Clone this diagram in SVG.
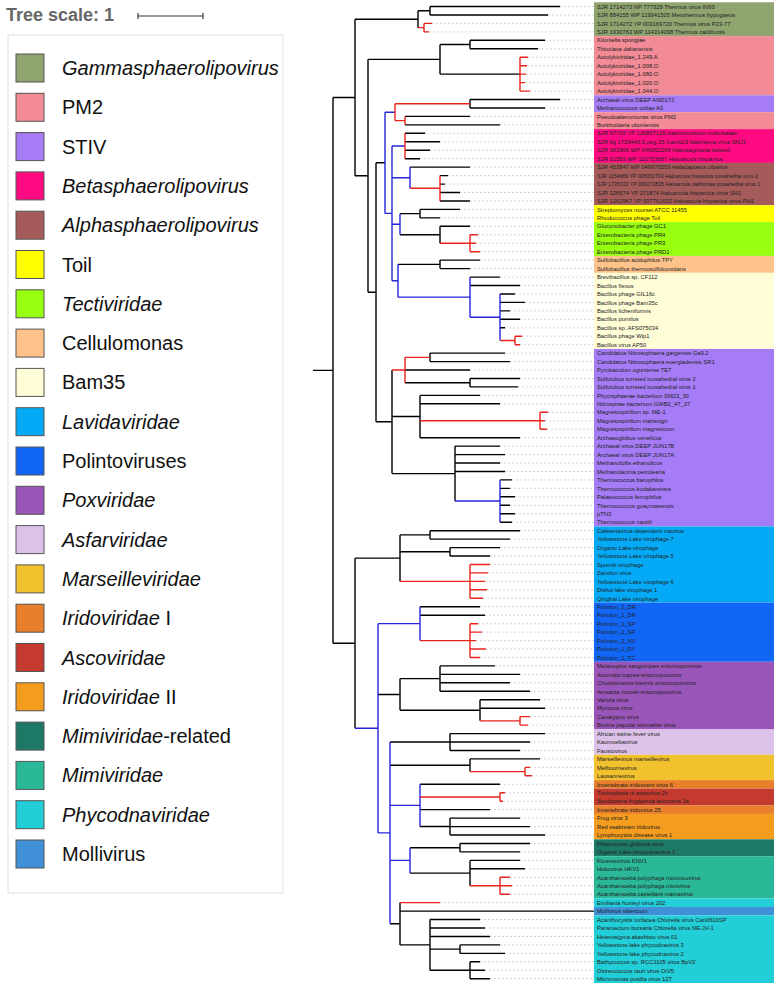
<svg xmlns="http://www.w3.org/2000/svg" width="777" height="988" viewBox="0 0 777 988">
<style>
.k{stroke:#000;stroke-width:1.4;fill:none}
.b{stroke:#2626d9;stroke-width:1.4;fill:none}
.r{stroke:#e8231c;stroke-width:1.4;fill:none}
.dl{stroke:#bbb;stroke-width:0.6;stroke-dasharray:2,2;fill:none}
.lb{font-family:"Liberation Sans",Arial,sans-serif;font-size:5.8px;fill:#222}
.lg{font-family:"Liberation Sans",Arial,sans-serif;font-size:20px;fill:#111}
.sq{stroke:#555;stroke-width:1}
</style>
<rect width="777" height="988" fill="#fff"/>
<g id="bands">
<rect x="594" y="2.27" width="180" height="33.82" fill="#8fa46f"/>
<rect x="594" y="36.09" width="180" height="59.18" fill="#f28b96"/>
<rect x="594" y="95.27" width="180" height="16.92" fill="#a57cf5"/>
<rect x="594" y="112.19" width="180" height="16.91" fill="#f28b96"/>
<rect x="594" y="129.1" width="180" height="33.82" fill="#ff0a80"/>
<rect x="594" y="162.92" width="180" height="42.27" fill="#a65b5b"/>
<rect x="594" y="205.19" width="180" height="16.91" fill="#ffff00"/>
<rect x="594" y="222.1" width="180" height="33.82" fill="#99ff11"/>
<rect x="594" y="255.92" width="180" height="16.91" fill="#ffc28a"/>
<rect x="594" y="272.83" width="180" height="76.1" fill="#fffdd6"/>
<rect x="594" y="348.93" width="180" height="177.55" fill="#a57cf5"/>
<rect x="594" y="526.48" width="180" height="76.1" fill="#05aaf6"/>
<rect x="594" y="602.58" width="180" height="59.18" fill="#1266f5"/>
<rect x="594" y="661.76" width="180" height="67.64" fill="#9a55b8"/>
<rect x="594" y="729.4" width="180" height="25.37" fill="#dcc1e8"/>
<rect x="594" y="754.77" width="180" height="25.36" fill="#f2c12e"/>
<rect x="594" y="780.13" width="180" height="8.46" fill="#e97f2a"/>
<rect x="594" y="788.59" width="180" height="16.91" fill="#c53a2e"/>
<rect x="594" y="805.5" width="180" height="8.45" fill="#e97f2a"/>
<rect x="594" y="813.95" width="180" height="25.37" fill="#f39c1d"/>
<rect x="594" y="839.32" width="180" height="16.91" fill="#1e7866"/>
<rect x="594" y="856.23" width="180" height="42.27" fill="#2bb898"/>
<rect x="594" y="898.5" width="180" height="8.46" fill="#22ced8"/>
<rect x="594" y="906.96" width="180" height="8.45" fill="#4090d8"/>
<rect x="594" y="915.41" width="180" height="67.64" fill="#22ced8"/>
</g>
<g id="connectors">
<path class="dl" d="M560 6.5H594M548 15H594M432 23.4H594M429 31.9H594M545 40.3H594M538 48.8H594M528 57.2H594M527 65.7H594M526 74.1H594M525 82.6H594M530 91.1H594M560 99.5H594M545 108H594M470 116.4H594M500 124.9H594M425 133.3H594M440 141.8H594M430 150.2H594M420 158.7H594M470 167.1H594M448 175.6H594M445 184.1H594M460 192.5H594M470 201H594M460 209.4H594M440 217.9H594M470 226.3H594M478 234.8H594M476 243.2H594M480 251.7H594M480 260.1H594M470 268.6H594M500 277.1H594M520 285.5H594M515 294H594M525 302.4H594M510 310.9H594M520 319.3H594M505 327.8H594M522 336.2H594M520 344.7H594M505 353.1H594M510 361.6H594M470 370H594M520 378.5H594M518 386.9H594M480 395.4H594M500 403.8H594M548 412.3H594M545 420.8H594M547 429.2H594M520 437.7H594M500 446.1H594M505 454.6H594M500 463H594M505 471.5H594M512 479.9H594M510 488.4H594M515 496.8H594M510 505.3H594M515 513.7H594M512 522.2H594M520 530.7H594M510 539.1H594M500 547.6H594M490 556H594M490 564.5H594M488 572.9H594M485 581.4H594M487 589.8H594M483 598.3H594M480 606.7H594M485 615.2H594M478 623.7H594M482 632.1H594M476 640.6H594M486 649H594M480 657.5H594M495 665.9H594M520 674.4H594M510 682.8H594M530 691.3H594M540 699.7H594M545 708.2H594M530 716.6H594M528 725.1H594M545 733.6H594M530 742H594M520 750.5H594M540 758.9H594M530 767.4H594M532 775.8H594M500 784.3H594M505 792.7H594M503 801.2H594M490 809.6H594M520 818.1H594M530 826.6H594M545 835H594M530 843.5H594M520 851.9H594M520 860.4H594M525 868.8H594M510 877.3H594M512 885.7H594M510 894.2H594M440 902.6H594M480 919.5H594M485 928H594M490 936.5H594M500 944.9H594M505 953.4H594M480 961.8H594M485 970.3H594M490 978.7H594"/>
<path class="k" d="M313 370.35H333M333 97.5V643.2M333 97.5H355M333 643.2H355
M355 19.2V175.8M355 19.2H418M355 175.8H368M368 59.35V292.3M368 59.35H440M368 292.3H376M376 162.8V421.8M376 162.8H385M376 421.8H392
M418 10.75V27.65M418 10.75H430M430 6.5V15M430 6.5H560M430 15H548
M440 44.55V74.15M440 44.55H470M470 40.3V48.8M470 40.3H545M470 48.8H538M440 74.15H520
M470 99.5V108M470 99.5H560M470 108H545M405 116.4H470M405 124.9H500
M405 133.3H425M405 141.8H440M405 150.2H430M405 158.7H420
M410 167.1H470M440 175.6H448M440 184.1H445M440 192.5H460M440 201H470
M400 213.65H420M420 209.4V217.9M420 209.4H460M420 217.9H440M400 234.8H440M440 226.3V243.25M440 226.3H470
M398 264.35H440M440 260.1V268.6M440 260.1H480M440 268.6H470M470 277.1H500M470 285.5H520
M500 294H515M500 302.4H525M500 310.9H510M500 319.3H520M500 327.8H505
M392 370V473.6M430 353.1V361.6M430 353.1H505M430 361.6H510M405 370H470M405 382.7H470M470 378.5V386.9M470 378.5H520M470 386.9H518
M392 416.55H420M420 395.4V437.7M420 395.4H480M420 403.8H500M420 437.7H520
M392 473.6H455M455 446.1V501.05M455 446.1H500M455 454.6H505M455 463H500M455 471.5H505
M500 479.9H512M500 488.4H510M500 496.8H515M500 505.3H510M500 513.7H515M500 522.2H512
M355 558.15V728.3M355 558.15H400M400 534.9V581.4M400 534.9H430M430 530.7V539.1M430 530.7H520M430 539.1H510M400 551.8H450M450 547.6V556M450 547.6H500M450 556H490
M420 606.7H480M420 615.2H485
M378 694.45H400M400 678.6V710.3M400 678.6H440M440 665.9V691.3M440 665.9H495M440 674.4H520M440 682.8H510M440 691.3H530M400 710.3H480M480 699.7V720.85M480 699.7H540M480 708.2H545
M390 742.05H450M450 733.6V750.5M450 733.6H545M450 742H530M450 750.5H520
M390 765.25H470M470 758.9V771.6M470 758.9H540
M420 784.3H500M420 809.6H490M420 826.55H450M450 818.1V835M450 818.1H520M450 826.6H530M450 835H545
M410 847.7H460M460 843.5V851.9M460 843.5H530M460 851.9H520M410 873.1H470M470 860.4V885.75M470 860.4H520M470 868.8H525
M390 923.75H400M400 902.6V944.9M400 911.1H594M400 944.9H430M430 919.5V970.25M430 919.5H480M430 928H485M430 936.5H490M430 949.15H460M460 944.9V953.4M460 944.9H500M460 953.4H505M430 970.25H470M470 961.8V978.7M470 961.8H480M470 970.3H485M470 978.7H490"/>
<path class="b" d="M385 112.2V213.4M385 112.2H395M385 213.4H392M392 146V280.75M392 146H405M392 177.7H410M410 167.1V188.3M392 224.2H400M400 213.65V234.8M392 280.75H398M398 264.35V297.15M398 297.15H470M470 277.1V317.2M470 317.2H500M500 294V340.45
M455 501.05H500M500 479.9V522.2
M355 728.3H378M378 623.65V832.9M378 623.65H420M420 606.7V640.6M378 832.9H390M390 742.05V923.75M390 805.4H420M420 784.3V826.55M390 860.4H410M410 847.7V873.1"/>
<path class="r" d="M418 27.65H424M424 23.4V31.9M424 23.4H432M424 31.9H429M520 57.2V91.1M520 57.2H528M520 65.7H527M520 74.1H526M520 82.6H525M520 91.1H530
M395 103.75V120.65M395 103.75H470M395 120.65H405M405 116.4V124.9M405 133.3V158.7M410 188.3H440M440 175.6V201M440 243.25H470M470 234.8V251.7M470 234.8H478M470 243.2H476M470 251.7H480
M500 340.45H515M515 336.2V344.7M515 336.2H522M515 344.7H520
M392 370H405M405 357.35V382.7M405 357.35H430M420 420.75H540M540 412.3V429.2M540 412.3H548M540 420.8H545M540 429.2H547
M400 581.4H470M470 564.5V598.3M470 564.5H490M470 572.9H488M470 581.4H485M470 589.8H487M470 598.3H483
M420 640.6H470M470 623.7V657.5M470 623.7H478M470 632.1H482M470 640.6H476M470 649H486M470 657.5H480
M480 720.85H520M520 716.6V725.1M520 716.6H530M520 725.1H528
M470 771.6H525M525 767.4V775.8M525 767.4H530M525 775.8H532
M420 796.95H500M500 792.7V801.2M500 792.7H505M500 801.2H503
M470 885.75H500M500 877.3V894.2M500 877.3H510M500 885.7H512M500 894.2H510
M400 902.6H440"/>
</g>
<g id="leaves" class="lb">
<g id="leaf1"><text x="597" y="8.6">SJR 1714273 NP 777329 Thermus virus IN93</text></g>
<g id="leaf2"><text x="597" y="17.1">SJR 884155 WP 119341505 Meiothermus hypogaeus</text></g>
<g id="leaf3"><text x="597" y="25.5">SJR 1714272 YP 003169720 Thermus virus P23-77</text></g>
<g id="leaf4"><text x="597" y="34">SJR 1930763 WP 114314098 Thermus caldifontis</text></g>
<g id="leaf5"><text x="597" y="42.4">Kiloniella spongiae</text></g>
<g id="leaf6"><text x="597" y="50.9">Thioclava dalianensis</text></g>
<g id="leaf7"><text x="597" y="59.3">Autolykiviridae_1.249.A</text></g>
<g id="leaf8"><text x="597" y="67.8">Autolykiviridae_1.008.O</text></g>
<g id="leaf9"><text x="597" y="76.2">Autolykiviridae_1.080.O</text></g>
<g id="leaf10"><text x="597" y="84.7">Autolykiviridae_1.020.O</text></g>
<g id="leaf11"><text x="597" y="93.2">Autolykiviridae_1.044.O</text></g>
<g id="leaf12"><text x="597" y="101.6">Archaeal virus DEEP AND17J</text></g>
<g id="leaf13"><text x="597" y="110.1">Methanococcus voltae A3</text></g>
<g id="leaf14"><text x="597" y="118.5">Pseudoalteromonas virus PM2</text></g>
<g id="leaf15"><text x="597" y="127">Burkholderia uboniensis</text></g>
<g id="leaf16"><text x="597" y="135.4">SJR 97703 YP 126867126 Halomicrobium mukohataei</text></g>
<g id="leaf17"><text x="597" y="143.9">SJR 6g 1729446.5.peg.25 Gamit23 Natrinema virus SNJ1</text></g>
<g id="leaf18"><text x="597" y="152.3">SJR 363906 WP 049952269 Halostagnicola larsenii</text></g>
<g id="leaf19"><text x="597" y="160.8">SJR 51593 WP 120753687 Haloarcula hispanica</text></g>
<g id="leaf20"><text x="597" y="169.2">SJR 453847 WP 049970559 Haladaptatus cibarius</text></g>
<g id="leaf21"><text x="597" y="177.7" font-size="5.2">SJR 1154689 YP 005352793 Haloarcula hispanica icosahedral virus 2</text></g>
<g id="leaf22"><text x="597" y="186.2" font-size="5.2">SJR 1735722 YP 009272835 Haloarcula californiae icosahedral virus 1</text></g>
<g id="leaf23"><text x="597" y="194.6">SJR 326574 YP 271874 Haloarcula hispanica virus SH1</text></g>
<g id="leaf24"><text x="597" y="203.1">SJR 1262967 YP 007761602 Haloarcula hispanica virus PH1</text></g>
<g id="leaf25"><text x="597" y="211.5">Streptomyces noursei ATCC 11455</text></g>
<g id="leaf26"><text x="597" y="220">Rhodococcus phage Toil</text></g>
<g id="leaf27"><text x="597" y="228.4">Gluconobacter phage GC1</text></g>
<g id="leaf28"><text x="597" y="236.9">Enterobacteria phage PR4</text></g>
<g id="leaf29"><text x="597" y="245.3">Enterobacteria phage PR3</text></g>
<g id="leaf30"><text x="597" y="253.8">Enterobacteria phage PRD1</text></g>
<g id="leaf31"><text x="597" y="262.3">Sulfobacillus acidophilus TPY</text></g>
<g id="leaf32"><text x="597" y="270.7">Sulfobacillus thermosulfidooxidans</text></g>
<g id="leaf33"><text x="597" y="279.2">Brevibacillus sp. CF112</text></g>
<g id="leaf34"><text x="597" y="287.6">Bacillus flexus</text></g>
<g id="leaf35"><text x="597" y="296.1">Bacillus phage GIL16c</text></g>
<g id="leaf36"><text x="597" y="304.5">Bacillus phage Bam35c</text></g>
<g id="leaf37"><text x="597" y="313">Bacillus licheniformis</text></g>
<g id="leaf38"><text x="597" y="321.4">Bacillus pumilus</text></g>
<g id="leaf39"><text x="597" y="329.9">Bacillus sp. AFS075034</text></g>
<g id="leaf40"><text x="597" y="338.4">Bacillus phage Wip1</text></g>
<g id="leaf41"><text x="597" y="346.8">Bacillus virus AP50</text></g>
<g id="leaf42"><text x="597" y="355.3">Candidatus Nitrosophaera gargensis Ga9.2</text></g>
<g id="leaf43"><text x="597" y="363.7">Candidatus Nitrosophaera evergladensis SR1</text></g>
<g id="leaf44"><text x="597" y="372.2">Pyrobaculum oguniense TE7</text></g>
<g id="leaf45"><text x="597" y="380.6">Sulfolobus turreted icosahedral virus 2</text></g>
<g id="leaf46"><text x="597" y="389.1">Sulfolobus turreted icosahedral virus 1</text></g>
<g id="leaf47"><text x="597" y="397.5">Phycisphaerae bacterium SM23_30</text></g>
<g id="leaf48"><text x="597" y="406">Nitrospirae bacterium GWB2_47_37</text></g>
<g id="leaf49"><text x="597" y="414.4">Magnetospirillum sp. ME-1</text></g>
<g id="leaf50"><text x="597" y="422.9">Magnetospirillum marisnigri</text></g>
<g id="leaf51"><text x="597" y="431.4">Magnetospirillum magneticum</text></g>
<g id="leaf52"><text x="597" y="439.8">Archaeoglobus veneficus</text></g>
<g id="leaf53"><text x="597" y="448.3">Archaeal virus DEEP JUN17B</text></g>
<g id="leaf54"><text x="597" y="456.7">Archaeal virus DEEP JUN17A</text></g>
<g id="leaf55"><text x="597" y="465.2">Methanofollis ethanolicus</text></g>
<g id="leaf56"><text x="597" y="473.6">Methanolacinia petrolearia</text></g>
<g id="leaf57"><text x="597" y="482.1">Thermococcus barophilus</text></g>
<g id="leaf58"><text x="597" y="490.5">Thermococcus kodakarensis</text></g>
<g id="leaf59"><text x="597" y="499">Palaeococcus ferrophilus</text></g>
<g id="leaf60"><text x="597" y="507.5">Thermococcus guaymasensis</text></g>
<g id="leaf61"><text x="597" y="515.9">pTN3</text></g>
<g id="leaf62"><text x="597" y="524.4">Thermococcus nautili</text></g>
<g id="leaf63"><text x="597" y="532.8">Cafeteriavirus-dependent mavirus</text></g>
<g id="leaf64"><text x="597" y="541.3">Yellowstone Lake virophage 7</text></g>
<g id="leaf65"><text x="597" y="549.7">Organic Lake virophage</text></g>
<g id="leaf66"><text x="597" y="558.2">Yellowstone Lake virophage 5</text></g>
<g id="leaf67"><text x="597" y="566.6">Sputnik virophage</text></g>
<g id="leaf68"><text x="597" y="575.1">Zamilon virus</text></g>
<g id="leaf69"><text x="597" y="583.5">Yellowstone Lake virophage 6</text></g>
<g id="leaf70"><text x="597" y="592">Dishui lake virophage 1</text></g>
<g id="leaf71"><text x="597" y="600.5">Qinghai Lake virophage</text></g>
<g id="leaf72"><text x="597" y="608.9">Polinton_2_DR</text></g>
<g id="leaf73"><text x="597" y="617.4">Polinton_1_DR</text></g>
<g id="leaf74"><text x="597" y="625.8">Polinton_1_SP</text></g>
<g id="leaf75"><text x="597" y="634.3">Polinton_2_SP</text></g>
<g id="leaf76"><text x="597" y="642.7">Polinton_2_NV</text></g>
<g id="leaf77"><text x="597" y="651.2">Polinton_1_DY</text></g>
<g id="leaf78"><text x="597" y="659.6">Polinton_1_TC</text></g>
<g id="leaf79"><text x="597" y="668.1">Melanoplus sanguinipes entomopoxvirus</text></g>
<g id="leaf80"><text x="597" y="676.6">Anomala cuprea entomopoxvirus</text></g>
<g id="leaf81"><text x="597" y="685">Choristoneura biennis entomopoxvirus</text></g>
<g id="leaf82"><text x="597" y="693.5">Amsacta moorei entomopoxvirus</text></g>
<g id="leaf83"><text x="597" y="701.9">Variola virus</text></g>
<g id="leaf84"><text x="597" y="710.4">Myxoma virus</text></g>
<g id="leaf85"><text x="597" y="718.8">Canarypox virus</text></g>
<g id="leaf86"><text x="597" y="727.3">Bovine papular stomatitis virus</text></g>
<g id="leaf87"><text x="597" y="735.7">African swine fever virus</text></g>
<g id="leaf88"><text x="597" y="744.2">Kaumoebavirus</text></g>
<g id="leaf89"><text x="597" y="752.6">Faustovirus</text></g>
<g id="leaf90"><text x="597" y="761.1">Marseillevirus marseillevirus</text></g>
<g id="leaf91"><text x="597" y="769.6">Melbournevirus</text></g>
<g id="leaf92"><text x="597" y="778">Lausannevirus</text></g>
<g id="leaf93"><text x="597" y="786.5">Invertebrate iridescent virus 6</text></g>
<g id="leaf94"><text x="597" y="794.9">Trichoplusia ni ascovirus 2c</text></g>
<g id="leaf95"><text x="597" y="803.4">Spodoptera frugiperda ascovirus 1a</text></g>
<g id="leaf96"><text x="597" y="811.8">Invertebrate iridovirus 25</text></g>
<g id="leaf97"><text x="597" y="820.3">Frog virus 3</text></g>
<g id="leaf98"><text x="597" y="828.7">Red seabream iridovirus</text></g>
<g id="leaf99"><text x="597" y="837.2">Lymphocystis disease virus 1</text></g>
<g id="leaf100"><text x="597" y="845.6">Phaeocystis globosa virus</text></g>
<g id="leaf101"><text x="597" y="854.1">Organic Lake phycodnavirus 1</text></g>
<g id="leaf102"><text x="597" y="862.6">Klosneuvirus KNV1</text></g>
<g id="leaf103"><text x="597" y="871">Hokovirus HKV1</text></g>
<g id="leaf104"><text x="597" y="879.5">Acanthamoeba polyphaga moumouvirus</text></g>
<g id="leaf105"><text x="597" y="887.9">Acanthamoeba polyphaga mimivirus</text></g>
<g id="leaf106"><text x="597" y="896.4">Acanthamoeba castellanii mamavirus</text></g>
<g id="leaf107"><text x="597" y="904.8">Emiliania huxleyi virus 202</text></g>
<g id="leaf108"><text x="597" y="913.3">Mollivirus sibericum</text></g>
<g id="leaf109"><text x="597" y="921.7">Acanthocystis turfacea Chlorella virus Can0610SP</text></g>
<g id="leaf110"><text x="597" y="930.2">Paramecium bursaria Chlorella virus NE-JV-1</text></g>
<g id="leaf111"><text x="597" y="938.7">Heterosigma akashiwo virus 01</text></g>
<g id="leaf112"><text x="597" y="947.1">Yellowstone lake phycodnavirus 3</text></g>
<g id="leaf113"><text x="597" y="955.6">Yellowstone lake phycodnavirus 2</text></g>
<g id="leaf114"><text x="597" y="964">Bathycoccus sp. RCC1105 virus BpV2</text></g>
<g id="leaf115"><text x="597" y="972.5">Ostreococcus tauri virus OtV5</text></g>
<g id="leaf116"><text x="597" y="980.9">Micromonas pusilla virus 12T</text></g>
</g>
<g id="scale">
<text x="6" y="21" font-family="Liberation Sans,Arial,sans-serif" font-size="18" font-weight="bold" fill="#666">Tree scale: 1</text>
<path d="M138 16H203M138 13V19M203 13V19" stroke="#333" stroke-width="1.2" fill="none"/>
</g>
<g id="legend">
<rect x="8" y="35" width="275" height="858" fill="#fff" stroke="#e2e2e2" stroke-width="1"/>
<g id="lg1"><rect class="sq" x="16" y="54" width="28" height="28" fill="#8fa46f"/><text class="lg" x="62" y="75" font-style="italic">Gammasphaerolipovirus</text></g>
<g id="lg2"><rect class="sq" x="16" y="93.3" width="28" height="28" fill="#f28b96"/><text class="lg" x="62" y="114.3">PM2</text></g>
<g id="lg3"><rect class="sq" x="16" y="132.6" width="28" height="28" fill="#a57cf5"/><text class="lg" x="62" y="153.6">STIV</text></g>
<g id="lg4"><rect class="sq" x="16" y="171.9" width="28" height="28" fill="#ff0a80"/><text class="lg" x="62" y="192.9" font-style="italic">Betasphaerolipovirus</text></g>
<g id="lg5"><rect class="sq" x="16" y="211.2" width="28" height="28" fill="#a65b5b"/><text class="lg" x="62" y="232.2" font-style="italic">Alphasphaerolipovirus</text></g>
<g id="lg6"><rect class="sq" x="16" y="250.5" width="28" height="28" fill="#ffff00"/><text class="lg" x="62" y="271.5">Toil</text></g>
<g id="lg7"><rect class="sq" x="16" y="289.8" width="28" height="28" fill="#99ff11"/><text class="lg" x="62" y="310.8" font-style="italic">Tectiviridae</text></g>
<g id="lg8"><rect class="sq" x="16" y="329.1" width="28" height="28" fill="#ffc28a"/><text class="lg" x="62" y="350.1">Cellulomonas</text></g>
<g id="lg9"><rect class="sq" x="16" y="368.4" width="28" height="28" fill="#fffdd6"/><text class="lg" x="62" y="389.4">Bam35</text></g>
<g id="lg10"><rect class="sq" x="16" y="407.7" width="28" height="28" fill="#05aaf6"/><text class="lg" x="62" y="428.7" font-style="italic">Lavidaviridae</text></g>
<g id="lg11"><rect class="sq" x="16" y="447" width="28" height="28" fill="#1266f5"/><text class="lg" x="62" y="468">Polintoviruses</text></g>
<g id="lg12"><rect class="sq" x="16" y="486.3" width="28" height="28" fill="#9a55b8"/><text class="lg" x="62" y="507.3" font-style="italic">Poxviridae</text></g>
<g id="lg13"><rect class="sq" x="16" y="525.6" width="28" height="28" fill="#dcc1e8"/><text class="lg" x="62" y="546.6" font-style="italic">Asfarviridae</text></g>
<g id="lg14"><rect class="sq" x="16" y="564.9" width="28" height="28" fill="#f2c12e"/><text class="lg" x="62" y="585.9" font-style="italic">Marseilleviridae</text></g>
<g id="lg15"><rect class="sq" x="16" y="604.2" width="28" height="28" fill="#e97f2a"/><text class="lg" x="62" y="625.2"><tspan font-style="italic">Iridoviridae</tspan> I</text></g>
<g id="lg16"><rect class="sq" x="16" y="643.5" width="28" height="28" fill="#c53a2e"/><text class="lg" x="62" y="664.5" font-style="italic">Ascoviridae</text></g>
<g id="lg17"><rect class="sq" x="16" y="682.8" width="28" height="28" fill="#f39c1d"/><text class="lg" x="62" y="703.8"><tspan font-style="italic">Iridoviridae</tspan> II</text></g>
<g id="lg18"><rect class="sq" x="16" y="722.1" width="28" height="28" fill="#1e7866"/><text class="lg" x="62" y="743.1"><tspan font-style="italic">Mimiviridae</tspan>-related</text></g>
<g id="lg19"><rect class="sq" x="16" y="761.4" width="28" height="28" fill="#2bb898"/><text class="lg" x="62" y="782.4" font-style="italic">Mimiviridae</text></g>
<g id="lg20"><rect class="sq" x="16" y="800.7" width="28" height="28" fill="#22ced8"/><text class="lg" x="62" y="821.7" font-style="italic">Phycodnaviridae</text></g>
<g id="lg21"><rect class="sq" x="16" y="840" width="28" height="28" fill="#4090d8"/><text class="lg" x="62" y="861">Mollivirus</text></g>
</g>
</svg>
